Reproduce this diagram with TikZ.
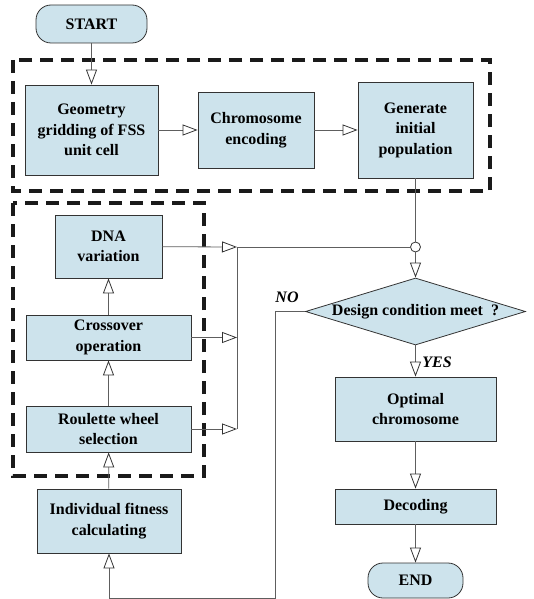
\documentclass[tikz,border=0pt]{standalone}
\usepackage{fontspec}
\setmainfont{Liberation Serif}
\usepackage{xcolor}
\usepackage{tikz}
\usetikzlibrary{calc,arrows.meta,shapes.geometric}
\definecolor{cell}{HTML}{CDE3EC}
\definecolor{bord}{HTML}{333333}
\definecolor{wire}{HTML}{5E5E5E}
\definecolor{frame}{HTML}{1A1A1A}
\tikzset{
  blk/.style={draw=bord, fill=cell, line width=0.8pt, align=center, inner sep=0pt,
    font=\bfseries\fontsize{16}{20.5}\selectfont},
  term/.style={blk, rounded corners=15pt},
  cond/.style={blk, diamond, aspect=3.3},
  arr/.style={draw=wire, line width=0.8pt, -{Triangle[open,length=15pt,width=11pt,fill=white,color=bord]}},
  wir/.style={draw=wire, line width=0.8pt},
  grp/.style={draw=frame, line width=3.2pt, dash pattern=on 13pt off 8pt},
  lab/.style={font=\bfseries\itshape\fontsize{16}{20}\selectfont},
}
\begin{document}
\begin{tikzpicture}[x=1pt,y=-1pt]
  \useasboundingbox (0,0) rectangle (534,599);
  \draw[grp] (13,60) rectangle (490,191);
  \draw[grp] (13,203) rectangle (204,476);
  \node[term,minimum width=111pt,minimum height=38pt] (start) at (91.5,24) {START};
  \node[blk,minimum width=133pt,minimum height=90pt] (geo) at (91.5,130) {Geometry\\gridding of FSS\\unit cell};
  \node[blk,minimum width=116pt,minimum height=76pt] (enc) at (256,130) {Chromosome\\encoding};
  \node[blk,minimum width=115pt,minimum height=96pt] (gen) at (415.5,130) {Generate\\initial\\population};
  \node[blk,minimum width=107pt,minimum height=63pt] (dna) at (108.5,246.5) {DNA\\variation};
  \node[blk,minimum width=165pt,minimum height=45pt] (cro) at (108.5,337.5) {Crossover\\operation};
  \node[blk,minimum width=165pt,minimum height=46pt] (rou) at (108.5,429) {Roulette wheel\\selection};
  \node[blk,minimum width=144pt,minimum height=64pt] (ind) at (109,521) {Individual fitness\\calculating};
  \node[cond,minimum width=220pt,minimum height=67pt] (des) at (415.5,311.5) {\makebox[0pt]{Design condition meet\ \ ?}};
  \node[blk,minimum width=161pt,minimum height=64pt] (opt) at (415.5,409) {Optimal\\chromosome};
  \node[blk,minimum width=161pt,minimum height=35pt] (dec) at (415.5,506.5) {Decoding};
  \node[term,minimum width=95pt,minimum height=35pt] (end) at (415.5,580.5) {END};
  \node[circle,draw=bord,fill=white,line width=0.8pt,minimum size=10pt,inner sep=0pt] (jn) at (415.5,247) {};
  \coordinate (ma) at (237,247);
  \coordinate (mb) at (237,337.5);
  \coordinate (mc) at (237,429);
  \coordinate (nb) at (275,598);
  \draw[arr] (start) -- (geo);
  \draw[arr] (geo) -- (enc);
  \draw[arr] (enc) -- (gen);
  \draw[wir] (gen) -- (jn);
  \draw[arr] (jn) -- (des);
  \draw[arr] (dna) -- (ma);
  \draw[wir] (ma) -- (jn);
  \draw[wir] (ma) -- (mc);
  \draw[arr] (cro) -- (mb);
  \draw[arr] (rou) -- (mc);
  \draw[arr] (cro) -- (dna);
  \draw[arr] (rou) -- (cro);
  \draw[arr] (ind) -- (rou);
  \draw[arr] (des) -- (opt);
  \draw[arr] (opt) -- (dec);
  \draw[arr] (dec) -- (end);
  \draw[arr] (des.west) -| (nb) -| (ind.south);
  \node[lab] (no) at (287,297) {NO};
  \node[lab] (yes) at (437,362) {YES};
\end{tikzpicture}
\end{document}
